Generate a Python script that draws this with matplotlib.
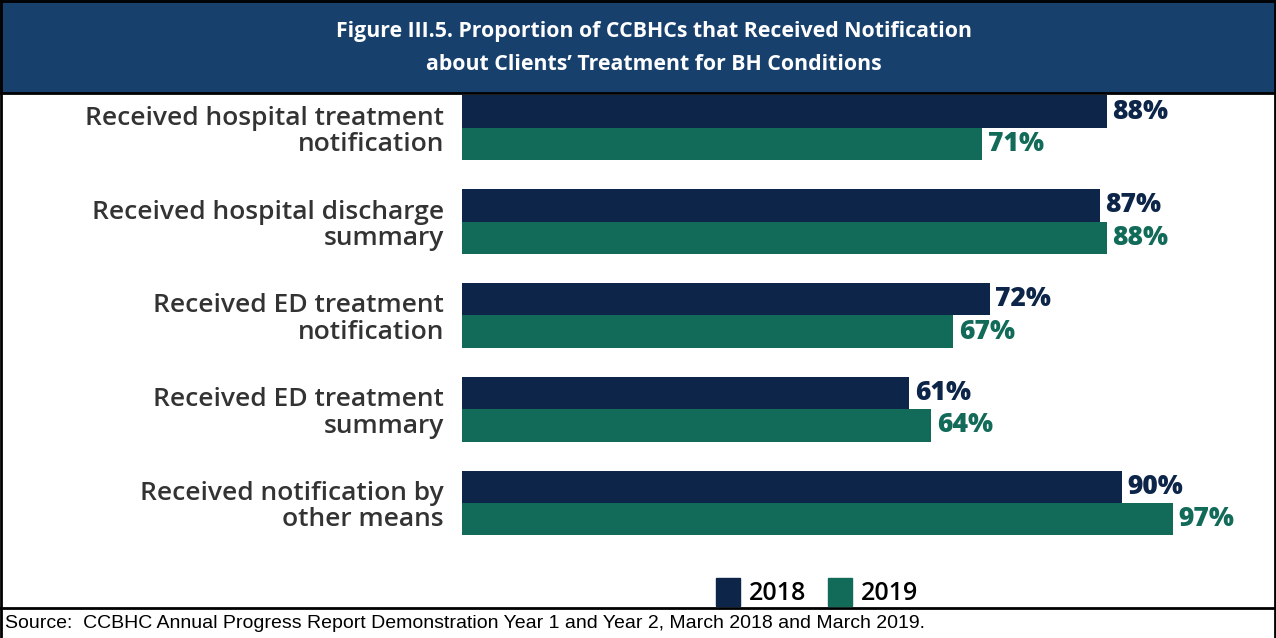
import numpy as np
import matplotlib.pyplot as plt
from matplotlib.patches import Rectangle, Patch

categories = ["Received hospital treatment\nnotification",
              "Received hospital discharge\nsummary",
              "Received ED treatment\nnotification",
              "Received ED treatment\nsummary",
              "Received notification by\nother means"]
vals_2018 = [88, 87, 72, 61, 90]
vals_2019 = [71, 88, 67, 64, 97]
years = ["2018", "2019"]

title = ("Figure III.5. Proportion of CCBHCs that Received Notification\n"
         "about Clients\u2019 Treatment for BH Conditions")
source = ("Source:  CCBHC Annual Progress Report Demonstration Year 1 and Year 2, "
          "March 2018 and March 2019.")

c18 = "#0c2548"
c19 = "#126a58"
header = "#17406d"

W, H = 1276, 638
fig = plt.figure(figsize=(W / 100, H / 100), dpi=100)

def fx(px):
    return px / W

def fy(py):
    return 1 - py / H

# header band
fig.patches.append(Rectangle((0, fy(93)), 1, 93 / H, transform=fig.transFigure,
                             fc=header, ec="none", zorder=0))
fig.text(fx(654), fy(48), title, ha="center", va="center", color="white",
         fontsize=15.3, fontweight="bold", family="Open Sans", linespacing=1.75)

# border lines
kw = dict(color="black", lw=2, transform=fig.transFigure)
fig.add_artist(plt.Line2D([fx(1), fx(1)], [0, 1], **kw))
fig.add_artist(plt.Line2D([fx(1275), fx(1275)], [0, 1], **kw))
fig.add_artist(plt.Line2D([0, 1], [fy(1), fy(1)], **kw))
fig.add_artist(plt.Line2D([0, 1], [fy(93), fy(93)], **kw))
fig.add_artist(plt.Line2D([0, 1], [fy(608), fy(608)], **kw))

fig.text(fx(5), fy(623), source, ha="left", va="center", fontsize=14,
         family="Liberation Sans", color="black")

# bar axes
x0, x1 = 462, 462 + 7.33 * 100
ax = fig.add_axes([fx(x0), fy(608), (x1 - x0) / W, (608 - 95) / H])
ax.set_facecolor("none")
y = np.arange(len(categories))
h = 0.345
ax.barh(y - h / 2, vals_2018, height=h, color=c18)
ax.barh(y + h / 2, vals_2019, height=h, color=c19)
ax.set_xlim(0, 100)
ax.set_ylim(5.12, -0.35)

for i in range(len(categories)):
    ax.annotate(f"{vals_2018[i]}%", (vals_2018[i], y[i] - h / 2), xytext=(4, 0),
                textcoords="offset points", va="center", ha="left",
                color=c18, fontsize=19, fontweight=800, family="Open Sans")
    ax.annotate(f"{vals_2019[i]}%", (vals_2019[i], y[i] + h / 2), xytext=(4, 0),
                textcoords="offset points", va="center", ha="left",
                color=c19, fontsize=19, fontweight=800, family="Open Sans")

ax.set_yticks(y)
ax.set_yticklabels(categories, fontsize=19, family="Open Sans", fontweight=600,
                   color="#333333", linespacing=1.08, multialignment="right")
ax.tick_params(axis="y", length=0, pad=13)
ax.set_xticks([])
for s in ax.spines.values():
    s.set_visible(False)

handles = [Patch(color=c18, label=years[0]), Patch(color=c19, label=years[1])]
fig.legend(handles=handles, loc="center", bbox_to_anchor=(fx(817), fy(592)), ncol=2,
           frameon=False, handlelength=0.95, handleheight=1.35, columnspacing=0.9,
           handletextpad=0.35, prop={"family": "Open Sans", "size": 18, "weight": 600})

fig.savefig("out.png", dpi=100)
